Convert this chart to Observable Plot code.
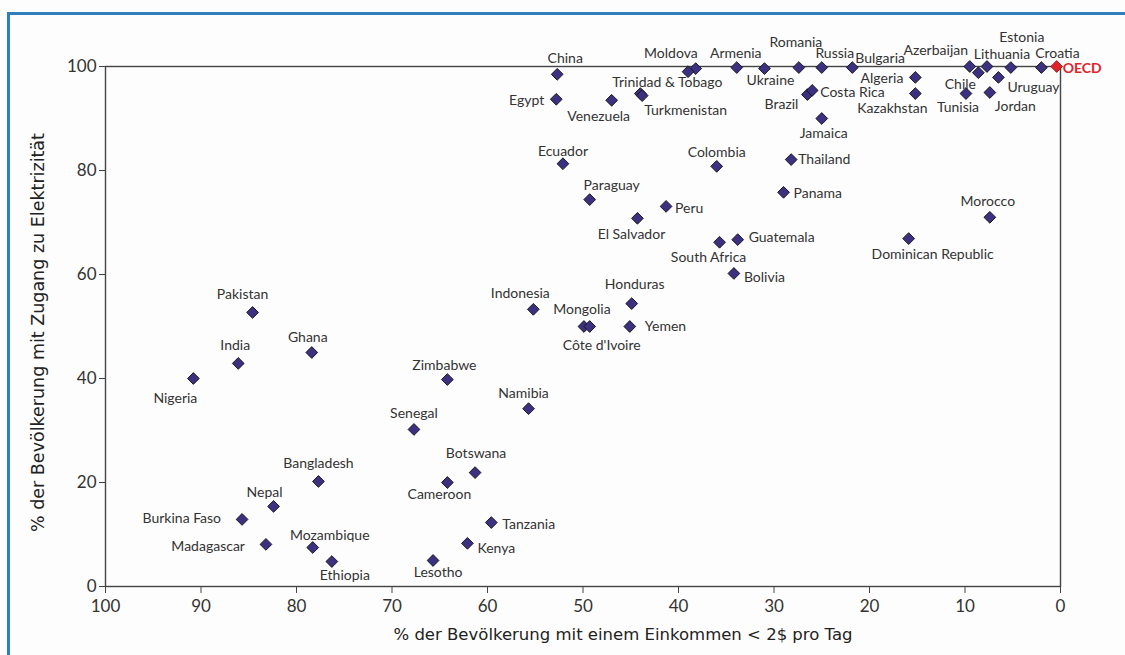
<!DOCTYPE html>
<html>
<head>
<meta charset="utf-8">
<script src="https://cdn.jsdelivr.net/npm/d3@7"></script>
<script src="https://cdn.jsdelivr.net/npm/@observablehq/plot@0.6"></script>
<style>
  html, body { margin: 0; padding: 0; background: #fff; }
  #wrap { position: relative; width: 1125px; height: 655px; overflow: hidden; background: #fdfdfd; }
  #border { position: absolute; left: 7px; top: 12px; right: -10px; bottom: -10px; border-left: 3px solid #2f7fbf; border-top: 3px solid #2f7fbf; }
  #chart { position: absolute; left: 0; top: 0; }
</style>
</head>
<body>
<div id="wrap"><div id="border"></div><div id="chart"></div></div>
<script>
// Data
const countries = ["China","Egypt","Venezuela","Trinidad & Tobago","Turkmenistan","Moldova","","Armenia","Ukraine","Romania","Russia","Bulgaria","Brazil","Costa Rica","Jamaica","Algeria","Kazakhstan","Azerbaijan","Chile","Tunisia","Lithuania","Estonia","Croatia","Uruguay","Jordan","OECD","Ecuador","Colombia","Thailand","Paraguay","Peru","Panama","El Salvador","South Africa","Guatemala","Bolivia","Morocco","Dominican Republic","Honduras","Yemen","Indonesia","Mongolia","Côte d'Ivoire","Zimbabwe","Namibia","Pakistan","Ghana","India","Nigeria","Senegal","Botswana","Cameroon","Tanzania","Kenya","Lesotho","Bangladesh","Nepal","Burkina Faso","Madagascar","Mozambique","Ethiopia"];
const incomeUnder2 = [52.7,52.8,47.0,44.0,43.8,38.2,39.0,33.9,31.0,27.4,25.0,21.8,26.5,26.0,25.0,15.2,15.2,9.5,8.6,9.9,7.7,5.2,2.0,6.5,7.4,0.4,52.1,36.0,28.2,49.3,41.3,29.0,44.3,35.7,33.8,34.2,7.4,15.9,44.9,45.1,55.2,49.9,49.3,64.2,55.7,84.6,78.4,86.1,90.8,67.7,61.3,64.2,59.6,62.1,65.7,77.7,82.4,85.7,83.2,78.3,76.3];
const electricity = [98.5,93.7,93.5,94.8,94.4,99.6,99.0,99.8,99.6,99.8,99.8,99.8,94.6,95.4,90.0,97.9,94.8,100,98.8,94.8,100,99.8,99.8,97.9,95.0,100,81.3,80.8,82.1,74.4,73.1,75.8,70.8,66.2,66.7,60.2,71.0,66.9,54.4,50.0,53.3,50.0,50.0,39.8,34.2,52.7,45.0,42.9,40.0,30.2,21.9,20.0,12.3,8.3,5.0,20.2,15.4,12.9,8.1,7.5,4.8];
const xTicks = [100,90,80,70,60,50,40,30,20,10,0];
const yTicks = [0,20,40,60,80,100];
const xTitle = "% der Bevölkerung mit einem Einkommen < 2$ pro Tag";
const yTitle = "% der Bevölkerung mit Zugang zu Elektrizität";

// Label placement (anchor, dx, dy in px) — layout only
const labelPlace = {
  "China":["middle",8,-16],"Egypt":["end",-12,1],"Venezuela":["middle",-13,16],
  "Trinidad & Tobago":["start",-28,-11],"Turkmenistan":["start",2,15],"Moldova":["end",2,-15],
  "Armenia":["middle",-1,-14],"Ukraine":["middle",6,12],"Romania":["middle",-3,-25],
  "Russia":["middle",13,-14],"Bulgaria":["start",3,-9],"Brazil":["end",-9,10],
  "Costa Rica":["start",8,2],"Jamaica":["middle",2,15],"Algeria":["end",-12,1],
  "Kazakhstan":["middle",-23,15],"Azerbaijan":["middle",-34,-16],"Chile":["middle",-18,12],
  "Tunisia":["middle",-8,14],"Lithuania":["middle",15,-12],"Estonia":["middle",11,-30],
  "Croatia":["middle",16,-14],"Uruguay":["start",9,10],"Jordan":["start",5,14],"OECD":["start",6,2],
  "Ecuador":["middle",0,-12],"Colombia":["middle",0,-14],"Thailand":["start",7,0],
  "Paraguay":["middle",22,-14],"Peru":["start",9,2],"Panama":["start",10,1],
  "El Salvador":["middle",-6,16],"South Africa":["middle",-11,15],"Guatemala":["start",11,-2],
  "Bolivia":["start",10,4],"Morocco":["middle",-2,-16],"Dominican Republic":["middle",24,16],
  "Honduras":["middle",3,-19],"Yemen":["start",15,0],"Indonesia":["middle",-13,-16],
  "Mongolia":["middle",-2,-17],"Côte d'Ivoire":["middle",12,19],"Zimbabwe":["middle",-3,-14],
  "Namibia":["middle",-5,-15],"Pakistan":["middle",-10,-18],"Ghana":["middle",-4,-15],
  "India":["middle",-3,-18],"Nigeria":["middle",-18,20],"Senegal":["middle",0,-16],
  "Botswana":["middle",1,-19],"Cameroon":["middle",-8,12],"Tanzania":["start",11,2],
  "Kenya":["start",10,5],"Lesotho":["middle",5,12],"Bangladesh":["middle",0,-18],
  "Nepal":["middle",-9,-14],"Burkina Faso":["end",-21,-1],"Madagascar":["end",-21,2],
  "Mozambique":["middle",17,-12],"Ethiopia":["middle",13,14]
};

const data = countries.map((c, i) => ({name: c, x: incomeUnder2[i], y: electricity[i], oecd: c === "OECD"}));
const labelFont = "Lato, 'Noto Sans', sans-serif";
const titleFont = "'DejaVu Sans', 'Liberation Sans', sans-serif";

const labelMarks = data.filter(d => d.name && labelPlace[d.name]).map(d => {
  const [anchor, dx, dy] = labelPlace[d.name];
  return Plot.text([d], {
    x: "x", y: "y", text: "name", textAnchor: anchor, dx, dy,
    fontFamily: labelFont, fontSize: 14,
    fontWeight: d.oecd ? "bold" : "normal",
    fill: d.oecd ? "#e0232b" : "#333"
  });
});

const chart = Plot.plot({
  width: 1125,
  height: 655,
  marginLeft: 105,
  marginRight: 65,
  marginTop: 66,
  marginBottom: 69,
  style: {background: "transparent", color: "#333"},
  x: {domain: [100, 0], ticks: xTicks},
  y: {domain: [0, 100], ticks: yTicks},
  marks: [
    Plot.frame({stroke: "#444", strokeWidth: 1.4}),
    Plot.axisX({ticks: xTicks, tickSize: 7, tickPadding: 6, fontSize: 17, fontFamily: labelFont, label: null, stroke: "#444", fill: "#333"}),
    Plot.axisY({ticks: yTicks, tickSize: 6, tickPadding: 3, fontSize: 17, fontFamily: labelFont, label: null, stroke: "#444", fill: "#333"}),
    Plot.text([xTitle], {frameAnchor: "bottom", dx: 40, dy: 53, textAnchor: "middle", fontFamily: titleFont, fontSize: 16.5, fill: "#222"}),
    Plot.text([yTitle], {frameAnchor: "left", dx: -67, dy: 6, rotate: -90, textAnchor: "middle", fontFamily: titleFont, fontSize: 17.5, fill: "#222"}),
    Plot.dot(data, {x: "x", y: "y", symbol: "diamond2", r: 5.3,
      fill: d => d.oecd ? "#e0232b" : "#3b3180",
      stroke: d => d.oecd ? "#a0101a" : "#111", strokeWidth: 0.9}),
    ...labelMarks
  ]
});
document.getElementById("chart").appendChild(chart);
</script>
</body>
</html>
